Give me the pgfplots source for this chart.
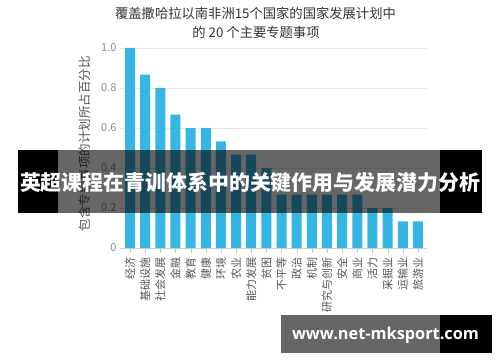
\documentclass[border=0pt]{standalone}
\usepackage{pgfplots}
\pgfplotsset{compat=1.18}
\usepackage{graphicx}
\usepackage{fontspec}
\setmainfont{Noto Sans CJK SC}
\newfontfamily\wmfont{Open Sans}
\definecolor{barblue}{RGB}{54,183,227}
\definecolor{titlegray}{RGB}{51,51,51}
\definecolor{labgray}{RGB}{85,85,85}
\definecolor{tickgray}{RGB}{140,140,140}
\definecolor{gridgray}{RGB}{230,230,230}
\begin{document}
\begin{tikzpicture}
\fill[white] (0,0) rectangle (500pt,362pt);
\useasboundingbox (0,0) rectangle (500pt,362pt);
\begin{axis}[
  at={(120pt,114pt)}, anchor=south west,
  scale only axis, width=307pt, height=200pt,
  xmin=-0.66, xmax=19.6, ymin=0, ymax=1,
  ybar, bar width=10pt,
  axis x line*=bottom, axis y line*=left,
  y axis line style={draw=none},
  x axis line style={draw=gridgray!80!gray},
  ytick={0,0.2,0.4,0.6,0.8,1.0},
  yticklabels={0,0.2,0.4,0.6,0.8,1.0},
  ymajorgrids, grid style={draw=gridgray, line width=0.8pt},
  ytick style={draw=none},
  xtick={0,...,19},
  xticklabels={经济,基础设施,社会发展,金融,教育,健康,环境,农业,能力发展,贫困,不平等,政治,机制,研究与创新,安全,商业,活力,采掘业,运输业,旅游业},
  xtick style={draw=gridgray!70!gray},
  major tick length=5pt,
  xticklabel shift=3pt,
  x tick label style={rotate=90, anchor=east, font=\fontsize{11}{13}\selectfont, text=labgray, inner sep=1pt},
  y tick label style={font=\fontsize{11}{13}\selectfont, text=tickgray},
  /pgf/number format/assume math mode=true,
  ylabel={包含专题事项的计划所占百分比},
  ylabel style={at={(axis description cs:-0.114,0.5225)}, anchor=center, font=\fontsize{12.5}{14}\selectfont, text=labgray},
]
\addplot[fill=barblue, draw=none] coordinates {
(0,1.0) (1,0.867) (2,0.8) (3,0.667) (4,0.6) (5,0.6) (6,0.533) (7,0.467) (8,0.467) (9,0.4)
(10,0.267) (11,0.267) (12,0.267) (13,0.267) (14,0.267) (15,0.267) (16,0.2) (17,0.2) (18,0.133) (19,0.133)
};
\end{axis}
\node[text=titlegray, font=\fontsize{13.3}{15}\selectfont] at (255.5pt,349pt) {覆盖撒哈拉以南非洲15个国家的国家发展计划中};
\node[text=titlegray, font=\fontsize{13.3}{15}\selectfont] at (256pt,330pt) {的 20 个主要专题事项};
% banner
\fill[black] (18pt,149pt) rectangle (58pt,212pt);
\fill[black, opacity=0.6] (58pt,149pt) rectangle (440pt,212pt);
\fill[black] (440pt,149pt) rectangle (482pt,212pt);
\node[text=white, inner sep=0pt] at (250pt,179pt) {\resizebox{460pt}{!}{\bfseries 英超课程在青训体系中的关键作用与发展潜力分析}};
% watermark
\fill[black, opacity=0.6] (281pt,9pt) rectangle (440pt,47pt);
\fill[black] (440pt,9pt) rectangle (492pt,47pt);
\node[text=white, inner sep=0pt] at (385.5pt,27pt) {\resizebox{187pt}{!}{\wmfont\bfseries www.net-mksport.com}};
\end{tikzpicture}
\end{document}
